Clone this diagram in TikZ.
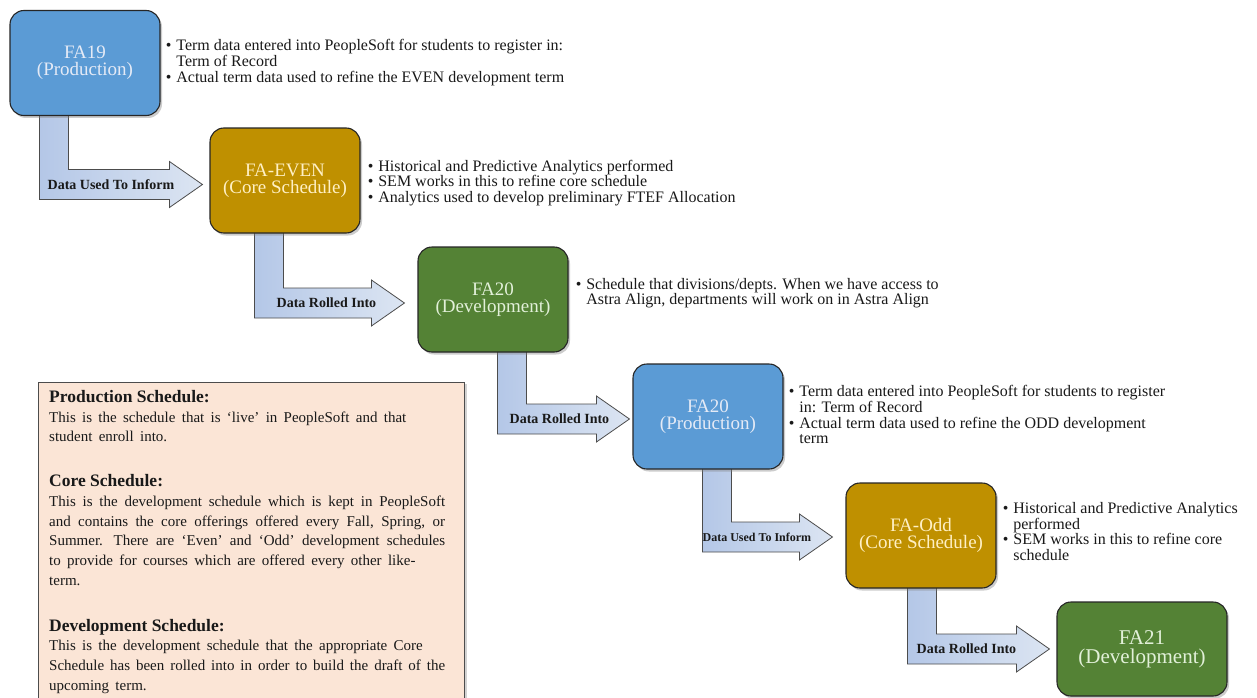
\documentclass[tikz,border=0pt]{standalone}
\usepackage{fontspec}
\setmainfont{Liberation Serif}
\usetikzlibrary{calc,shadows}
\definecolor{pblue}{HTML}{5B9BD5}
\definecolor{pgold}{HTML}{BF9000}
\definecolor{pgreen}{HTML}{548235}
\definecolor{legfill}{HTML}{FBE5D6}
\definecolor{arrL}{HTML}{B4C7E7}
\definecolor{arrR}{HTML}{DCE5F2}
\definecolor{tblue}{HTML}{E4EAF6}
\definecolor{tgold}{HTML}{FFF0C4}
\definecolor{tgreen}{HTML}{E2F0D9}
\pgfdeclarelayer{bg}
\pgfsetlayers{bg,main}
\newcommand{\lghead}{\fontsize{17.5}{21}\selectfont\bfseries}
\newcommand{\lgbody}{\fontsize{15}{19.7}\selectfont\spaceskip=0.42em plus 0.3em minus 0.12em\relax}
\newcommand{\flowarrow}[2]{%
  \begin{pgfonlayer}{bg}
  \draw[flow] (#1) -- ($(#1)+(29,0)$) |- ($(#2)+(-33,-15)$) -- ($(#2)+(-33,-23)$) -- (#2)
     -- ($(#2)+(-33,23)$) -- ($(#2)+(-33,15)$) -| (#1) -- cycle;
  \end{pgfonlayer}}
\begin{document}
\begin{tikzpicture}[x=1pt,y=-1pt,
  stage/.style={draw=black!85, line width=1.1pt, rounded corners=14pt,
    minimum width=150pt, minimum height=105pt, inner sep=0pt, align=center,
    font=\fontsize{19}{17}\selectfont,
    drop shadow={shadow xshift=2pt, shadow yshift=-2.5pt, opacity=0.4}},
  stblue/.style={stage, fill=pblue, text=tblue},
  stgold/.style={stage, fill=pgold, text=tgold},
  stgreen/.style={stage, fill=pgreen, text=tgreen},
  flow/.style={draw=black!70, line width=0.8pt, left color=arrL, right color=arrR},
  lab/.style={font=\fontsize{14}{14}\selectfont\bfseries, inner sep=0pt, text=black!90, anchor=west},
  note/.style={font=\fontsize{16}{15}\selectfont, inner sep=0pt, text=black!90, anchor=west},
  legbox/.style={draw=black!70, line width=0.9pt, fill=legfill,
    drop shadow={shadow xshift=2.5pt, shadow yshift=-1.5pt, opacity=0.35}}
]
\useasboundingbox (0,0) rectangle (1257,698);
\begin{pgfonlayer}{bg}
\fill[white] (0,0) rectangle (1257,698);
\end{pgfonlayer}

% stage boxes
\node[stblue]  (b1) at (85,63)      {FA19\\(Production)};
\node[stgold]  (b2) at (285,180.5)  {FA-EVEN\\(Core Schedule)};
\node[stgreen] (b3) at (493,299.5)  {FA20\\(Development)};
\node[stblue]  (b4) at (708,416.5)  {FA20\\(Production)};
\node[stgold]  (b5) at (921,535.5)  {FA-Odd\\(Core Schedule)};
\node[stgreen, minimum width=170pt, minimum height=94pt, font=\fontsize{21}{19}\selectfont] (b6) at (1142,649) {FA21\\(Development)};

% bent arrows
\coordinate (s1) at ($(b1.south west)+(30,-2)$);
\coordinate (t1) at ($(b2.west)+(-7,4)$);
\flowarrow{s1}{t1}
\node[lab] (l1) at ($(s1|-t1)+(8,0)$) {Data Used To Inform};

\coordinate (s2) at ($(b2.south west)+(45,-2)$);
\coordinate (t2) at ($(b3.west)+(-13,3.5)$);
\flowarrow{s2}{t2}
\node[lab] (l2) at ($(s2|-t2)+(22,0)$) {Data Rolled Into};

\coordinate (s3) at ($(b3.south west)+(80,-2)$);
\coordinate (t3) at ($(b4.west)+(-3,2.5)$);
\flowarrow{s3}{t3}
\node[lab] (l3) at ($(s3|-t3)+(12,0)$) {Data Rolled Into};

\coordinate (s4) at ($(b4.south west)+(70,-2)$);
\coordinate (t4) at ($(b5.west)+(-13,1.5)$);
\flowarrow{s4}{t4}
\node[lab, font=\fontsize{12}{12}\selectfont\bfseries] (l4) at ($(s4|-t4)+(0,0)$) {Data Used To Inform};

\coordinate (s5) at ($(b5.south west)+(62,-2)$);
\coordinate (t5) at ($(b6.west)+(-7,0)$);
\flowarrow{s5}{t5}
\node[lab] (l5) at ($(s5|-t5)+(9,0)$) {Data Rolled Into};

% bullet notes
\node[note] (n1) at ($(b1.east)+(5,0)$) {\begin{tabular}{@{}l@{\hspace{5pt}}l@{}}
\textbullet & Term data entered into PeopleSoft for students to register in:\\
 & Term of Record\\
\textbullet & Actual term data used to refine the EVEN development term
\end{tabular}};
\node[note] (n2) at ($(b2.east)+(7,3)$) {\begin{tabular}{@{}l@{\hspace{5pt}}l@{}}
\textbullet & Historical and Predictive Analytics performed\\
\textbullet & SEM works in this to refine core schedule\\
\textbullet & Analytics used to develop preliminary FTEF Allocation
\end{tabular}};
\node[note] (n3) at ($(b3.east)+(7,-6)$) {\begin{tabular}{@{}l@{\hspace{5pt}}l@{}}
\textbullet & Schedule that divisions/depts. When we have access to\\
 & Astra Align, departments will work on in Astra Align
\end{tabular}};
\node[note] (n4) at ($(b4.east)+(5,0)$) {\begin{tabular}{@{}l@{\hspace{5pt}}l@{}}
\textbullet & Term data entered into PeopleSoft for students to register\\
 & in: Term of Record\\
\textbullet & Actual term data used to refine the ODD development\\
 & term
\end{tabular}};
\node[note] (n5) at ($(b5.east)+(6,-2)$) {\begin{tabular}{@{}l@{\hspace{5pt}}l@{}}
\textbullet & Historical and Predictive Analytics\\
 & performed\\
\textbullet & SEM works in this to refine core\\
 & schedule
\end{tabular}};

% legend
\node[legbox, anchor=north west, minimum width=426pt, minimum height=340pt, inner sep=0pt] (leg) at (38,382) {};
\node[anchor=north west, text width=396pt, align=justify, inner sep=0pt, text=black!90] (legtxt) at ($(leg.north west)+(11,8)$) {%
{\lghead Production Schedule:\par}
{\lgbody This is the schedule that is ‘live’ in PeopleSoft and that\\ student enroll into.\par}
\vspace{24pt}
{\lghead Core Schedule:\par}
{\lgbody This is the development schedule which is kept in PeopleSoft\linebreak
and contains the core offerings offered every Fall, Spring, or\linebreak
Summer. There are ‘Even’ and ‘Odd’ development schedules\linebreak
to provide for courses which are offered every other like-\\ term.\par}
\vspace{25pt}
{\lghead Development Schedule:\par}
{\lgbody This is the development schedule that the appropriate Core\\
Schedule has been rolled into in order to build the draft of the\linebreak
upcoming term.\par}};
\end{tikzpicture}
\end{document}
